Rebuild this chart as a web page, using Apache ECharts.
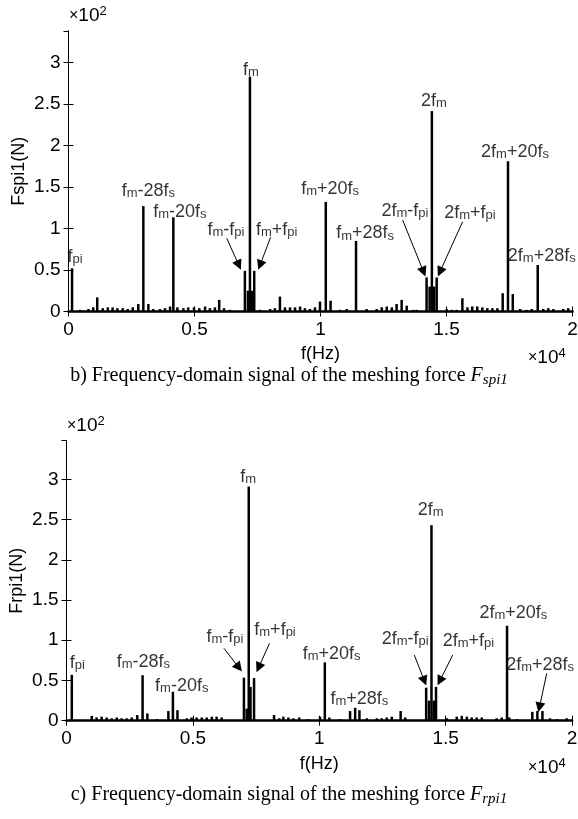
<!DOCTYPE html>
<html><head><meta charset="utf-8">
<script src="https://cdn.jsdelivr.net/npm/echarts@6/dist/echarts.min.js"></script>
<style>html,body{margin:0;padding:0;background:#fff}#c{width:578px;height:819px}</style>
</head><body><div id="c"></div><script>
// ---- data (x in 1e4 Hz, y in 1e2 N) ----
const xTicks = [0, 0.5, 1, 1.5, 2];
const yTicks = [0, 0.5, 1, 1.5, 2, 2.5, 3];

const spiFreq = [0.014,0.046,0.079,0.098,0.114,0.136,0.156,0.175,0.194,0.215,0.235,0.255,0.277,0.297,0.317,0.336,0.363,0.383,0.403,0.416,0.432,0.456,0.475,0.498,0.519,0.542,0.561,0.581,0.598,0.617,0.641,0.700,0.712,0.720,0.728,0.737,0.760,0.800,0.819,0.839,0.859,0.879,0.899,0.919,0.938,0.958,0.978,0.998,1.021,1.040,1.077,1.104,1.141,1.183,1.223,1.243,1.263,1.283,1.302,1.322,1.342,1.368,1.382,1.421,1.433,1.442,1.451,1.461,1.501,1.521,1.540,1.563,1.583,1.602,1.622,1.642,1.662,1.682,1.702,1.723,1.744,1.763,1.792,1.818,1.838,1.862,1.884,1.904,1.924,1.963,1.983];
const spiAmp = [0.52,0.02,0.03,0.05,0.17,0.04,0.05,0.05,0.04,0.04,0.03,0.05,0.09,1.27,0.09,0.03,0.03,0.04,0.06,1.135,0.05,0.04,0.05,0.05,0.04,0.06,0.04,0.05,0.14,0.04,0.02,0.49,0.25,2.83,0.25,0.49,0.02,0.03,0.04,0.18,0.05,0.05,0.05,0.06,0.04,0.03,0.05,0.12,1.32,0.13,0.02,0.03,0.85,0.03,0.03,0.05,0.06,0.05,0.09,0.14,0.07,0.02,0.02,0.41,0.30,2.415,0.30,0.41,0.03,0.02,0.02,0.16,0.05,0.06,0.06,0.05,0.04,0.04,0.04,0.22,1.81,0.21,0.03,0.02,0.03,0.56,0.03,0.04,0.03,0.03,0.04];

const rpiFreq = [0.021,0.100,0.119,0.139,0.159,0.179,0.199,0.218,0.238,0.258,0.280,0.301,0.320,0.357,0.403,0.421,0.439,0.476,0.495,0.515,0.535,0.555,0.575,0.594,0.614,0.702,0.713,0.721,0.728,0.742,0.821,0.842,0.858,0.878,0.898,0.921,0.957,1.003,1.022,1.040,1.082,1.122,1.142,1.159,1.188,1.228,1.247,1.267,1.287,1.322,1.340,1.423,1.434,1.444,1.453,1.462,1.505,1.544,1.564,1.584,1.603,1.623,1.643,1.702,1.722,1.743,1.752,1.782,1.843,1.863,1.883,1.913,1.940,1.979];
const rpiAmp = [0.57,0.06,0.04,0.05,0.04,0.03,0.04,0.03,0.03,0.04,0.07,0.565,0.09,0.02,0.12,0.36,0.13,0.03,0.04,0.04,0.04,0.04,0.05,0.05,0.04,0.535,0.15,2.91,0.42,0.53,0.07,0.03,0.05,0.04,0.03,0.04,0.02,0.05,0.725,0.04,0.02,0.12,0.16,0.13,0.03,0.03,0.03,0.04,0.05,0.12,0.04,0.41,0.25,2.43,0.25,0.42,0.03,0.05,0.06,0.05,0.04,0.04,0.04,0.03,0.04,1.18,0.04,0.02,0.11,0.12,0.12,0.03,0.02,0.03];

const noteText = ['f_{pi}','f_{m}-28f_{s}','f_{m}-20f_{s}','f_{m}-f_{pi}','f_{m}','f_{m}+f_{pi}','f_{m}+20f_{s}','f_{m}+28f_{s}','2f_{m}-f_{pi}','2f_{m}','2f_{m}+f_{pi}','2f_{m}+20f_{s}','2f_{m}+28f_{s}'];
const spiNoteX = [0.026,0.317,0.442,0.625,0.724,0.826,1.038,1.177,1.335,1.450,1.593,1.772,1.878];
const spiNoteY = [0.66,1.455,1.20,0.98,2.91,0.98,1.476,0.94,1.214,2.54,1.183,1.918,0.669];
const rpiNoteX = [0.043,0.304,0.456,0.627,0.719,0.825,1.049,1.159,1.340,1.441,1.590,1.768,1.874];
const rpiNoteY = [0.713,0.733,0.431,1.036,3.024,1.127,0.829,0.27,1.015,2.617,0.994,1.342,0.692];
const spiArrows = [[0.628,0.882,0.676,0.558],[0.802,0.894,0.760,0.558],[1.326,1.102,1.409,0.478],[1.564,1.082,1.474,0.478]];
const rpiArrows = [[0.623,0.899,0.682,0.66],[0.803,0.961,0.760,0.66],[1.376,0.816,1.416,0.495],[1.528,0.816,1.477,0.495],[1.900,0.589,1.871,0.165]];

// ---- build ----
const FONT = 'Arial, "Liberation Sans", sans-serif';
const SERIF = '"Liberation Serif","Times New Roman",serif';
function toRich(t){let out='';const re=/([^_]+)|_\{([^}]*)\}/g;let m;while((m=re.exec(t))){if(m[1])out+='{n|'+m[1]+'}';else out+='{s|'+m[2]+'}';}return out;}
const richStyle = {
  n:{fontFamily:FONT,fontSize:18,color:'#000',lineHeight:18,verticalAlign:'top'},
  s:{fontFamily:FONT,fontSize:13,color:'#000',lineHeight:13,padding:[8,0,0,0],verticalAlign:'bottom'}
};
const chart = echarts.init(document.getElementById('c'));
const grids = [
  {left:68.5,top:31,width:504,height:280.5,containLabel:false,outerBoundsMode:'none'},
  {left:66.5,top:440.7,width:505.5,height:280,containLabel:false,outerBoundsMode:'none'}
];
const ymax = [3.38,3.48];
const yNames = ['Fspi1(N)','Frpi1(N)'];
const xAxes=[],yAxes=[];
grids.forEach((g,i)=>{
  const common = {gridIndex:i,type:'value',min:xTicks[0],max:xTicks[xTicks.length-1],interval:xTicks[1]-xTicks[0],splitLine:{show:false}};
  xAxes.push(Object.assign({},common,{position:'bottom',
    axisLine:{lineStyle:{color:'#000',width:2.5}},axisTick:{inside:true,length:5,lineStyle:{color:'#000'}},
    axisLabel:{color:'#000',fontSize:19,fontFamily:FONT,margin:9},
    name:'f(Hz)',nameLocation:'middle',nameGap:34,nameMoveOverlap:false,nameTextStyle:{color:'#000',fontSize:18,fontFamily:FONT}}));
  xAxes.push(Object.assign({},common,{position:'top',
    axisLine:{lineStyle:{color:'#000',width:1}},axisTick:{inside:true,length:5,lineStyle:{color:'#000'}},axisLabel:{show:false}}));
  const yc = {gridIndex:i,type:'value',min:yTicks[0],max:ymax[i],interval:yTicks[1]-yTicks[0],splitLine:{show:false}};
  yAxes.push(Object.assign({},yc,{position:'left',
    axisLine:{show:true,lineStyle:{color:'#000',width:1}},axisTick:{show:true,inside:true,length:5,lineStyle:{color:'#000'}},
    axisLabel:{color:'#000',fontSize:19,fontFamily:FONT,margin:8,showMaxLabel:false},
    name:yNames[i],nameLocation:'middle',nameGap:40,nameMoveOverlap:false,nameRotate:90,nameTextStyle:{color:'#000',fontSize:18,fontFamily:FONT}}));
  yAxes.push(Object.assign({},yc,{position:'right',
    axisLine:{show:true,lineStyle:{color:'#000',width:1}},axisTick:{show:true,inside:true,length:5,lineStyle:{color:'#000'}},axisLabel:{show:false}}));
});
function barSeries(freq,amp,i){
  return {type:'bar',xAxisIndex:i*2,yAxisIndex:i*2,barWidth:2.5,itemStyle:{color:'#000'},
    data:freq.map((f,k)=>[f,amp[k]]),silent:true,animation:false};
}
function noteSeries(nx,ny,arrows,i){
  return {type:'scatter',xAxisIndex:i*2,yAxisIndex:i*2,symbolSize:1,itemStyle:{color:'rgba(0,0,0,0)'},silent:true,animation:false,
    data:noteText.map((t,k)=>({value:[nx[k],ny[k]],label:{show:true,position:'inside',formatter:toRich(t),rich:richStyle}})),
    markLine:{silent:true,animation:false,symbol:['none','triangle'],symbolSize:10,label:{show:false},
      lineStyle:{color:'#000',width:1,type:'solid'},emphasis:{disabled:true},
      data:arrows.map(a=>[{coord:[a[0],a[1]]},{coord:[a[2],a[3]]}])}};
}
const capRich = {
  t:{fontFamily:SERIF,fontSize:20,color:'#000'},
  i:{fontFamily:SERIF,fontSize:20,fontStyle:'italic',color:'#000'},
  s:{fontFamily:SERIF,fontSize:15,fontStyle:'italic',color:'#000',padding:[9,0,0,0],verticalAlign:'bottom'}
};
const expRich = {
  x:{fontFamily:FONT,fontSize:16,color:'#000'},
  b:{fontFamily:FONT,fontSize:19,color:'#000'},
  e:{fontFamily:FONT,fontSize:13,color:'#000',padding:[0,0,9,0],verticalAlign:'top'}
};
chart.setOption({
  animation:false,
  grid:grids,
  xAxis:xAxes,
  yAxis:yAxes,
  series:[barSeries(spiFreq,spiAmp,0),barSeries(rpiFreq,rpiAmp,1),
    noteSeries(spiNoteX,spiNoteY,spiArrows,0),noteSeries(rpiNoteX,rpiNoteY,rpiArrows,1)],
  graphic:[
    {type:'text',left:69,top:5,style:{text:'{x|×}{b|10}{e|2}',rich:expRich}},
    {type:'text',left:67,top:415,style:{text:'{x|×}{b|10}{e|2}',rich:expRich}},
    {type:'text',left:528,top:347,style:{text:'{x|×}{b|10}{e|4}',rich:expRich}},
    {type:'text',left:528,top:757,style:{text:'{x|×}{b|10}{e|4}',rich:expRich}},
    {type:'text',left:'center',top:366,style:{text:'{t|b) Frequency-domain signal of the meshing force }{i|F}{s|spi}{s|1}',rich:capRich}},
    {type:'text',left:'center',top:785,style:{text:'{t|c) Frequency-domain signal of the meshing force }{i|F}{s|rpi}{s|1}',rich:capRich}}
  ]
});
</script></body></html>
